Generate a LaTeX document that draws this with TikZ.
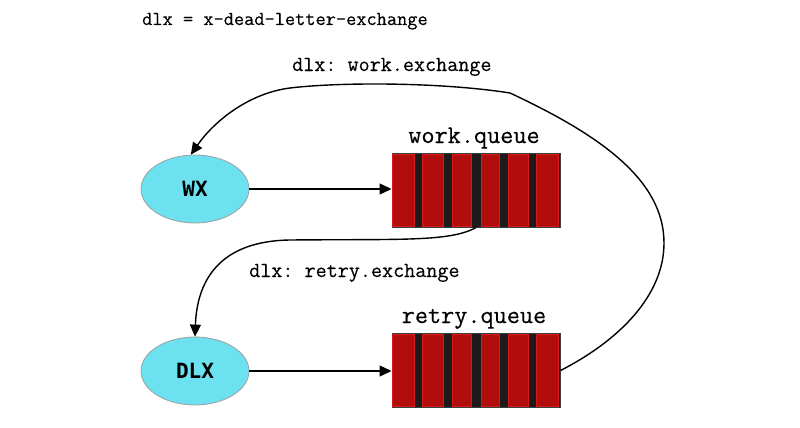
\documentclass[tikz,border=0pt]{standalone}
\usepackage{fontspec}
\newfontfamily\boldmono{DejaVu Sans Mono}
\newfontfamily\txtmono{Latin Modern Mono}[FakeBold=0.3]
\usetikzlibrary{shapes.geometric,arrows.meta,calc}
\definecolor{cyanfill}{HTML}{6CE1F0}
\definecolor{cellred}{HTML}{B20D0D}
\definecolor{celledge}{HTML}{DD1A1A}
\definecolor{barblack}{HTML}{1C1A1A}
\definecolor{boxedge}{HTML}{3A4040}
\definecolor{elledge}{HTML}{A0A0A0}
\frenchspacing
\tikzset{
 exch/.style={ellipse, draw=elledge, line width=0.8pt, fill=cyanfill, minimum width=108pt, minimum height=68pt, inner sep=0pt, font=\boldmono\bfseries\fontsize{21}{21}\selectfont},
 queuebox/.style={rectangle, draw=boxedge, line width=1pt, fill=barblack, minimum width=168pt, minimum height=74pt, inner sep=0pt},
 cell/.style={fill=cellred, draw=celledge, line width=0.6pt},
 qlabel/.style={font=\txtmono\fontsize{25.5}{26}\selectfont, inner sep=0pt, anchor=base},
 elabel/.style={font=\txtmono\fontsize{21.5}{22}\selectfont, inner sep=0pt, anchor=base west},
 conn/.style={-{Triangle[length=12pt,width=11pt]}, line width=1.4pt, black},
}
\begin{document}
\begin{tikzpicture}[x=1pt,y=-1pt]
\useasboundingbox (0,0) rectangle (800,428);
\node[font=\txtmono\fontsize{19.8}{20}\selectfont, anchor=base west, inner sep=0pt] (title) at (142,25) {dlx = x-dead-letter-exchange};
\node[exch] (wx) at (195,189) {WX};
\node[exch] (dlx) at (195,371) {DLX};
\node[queuebox] (wq) at (476,190) {};
\node[queuebox] (rq) at (476,370.5) {};
\foreach \q in {wq,rq}{
  \foreach \a/\b in {0/24,30/53,60/81,89/109,116/138,144/168}{
    \draw[cell] ($(\q.north west)+(\a+0.8,1.6)$) rectangle ($(\q.north west)+(\b-0.8,73.4)$);
  }
}
\node[qlabel] (wql) at (474,143) {work.queue};
\node[qlabel] (rql) at (474,323) {retry.queue};
\node[elabel] (wel) at (292,71) {dlx: work.exchange};
\node[elabel] (rel) at (249,277) {dlx: retry.exchange};
\draw[conn] (wx.east) -- (wx.east -| wq.west);
\draw[conn] (dlx.east) -- (dlx.east -| rq.west);
\draw[conn] (wq.south) .. controls (450,242) and (400,239) .. (290,240)
  .. controls (220,241) and (197,280) .. (dlx.north);
\draw[conn] (rq.east) .. controls (620,340) and (664,295) .. (664,243)
  .. controls (664,180) and (600,135) .. (510,93)
  .. controls (440,82) and (340,82) .. (290,88)
  .. controls (250,93) and (215,120) .. (wx.97);
\end{tikzpicture}
\end{document}
